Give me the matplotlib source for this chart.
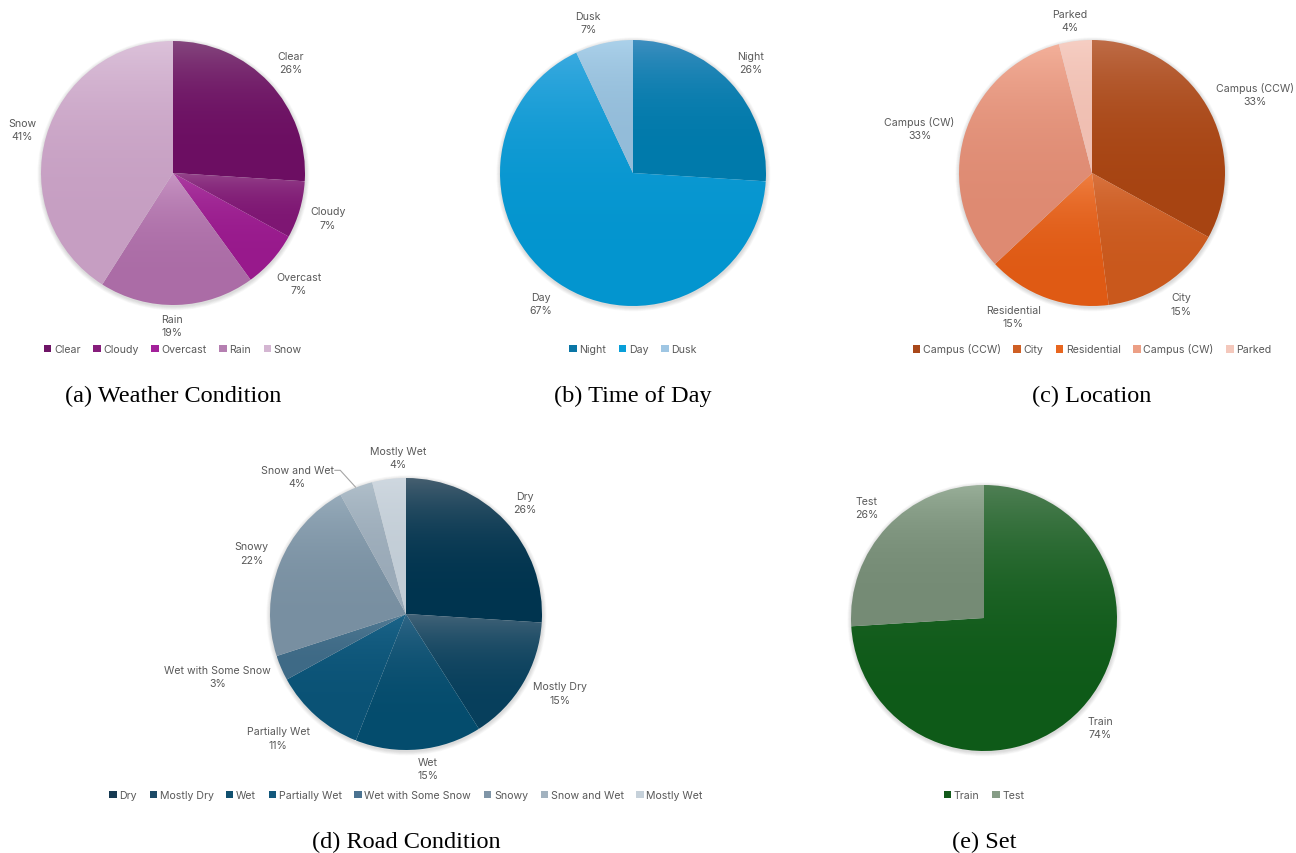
import numpy as np
import matplotlib
matplotlib.use("Agg")
import matplotlib.pyplot as plt
from matplotlib.patches import Patch, Circle
from matplotlib.colors import to_rgb

# ---------------- data ----------------
weather_labels = ["Clear", "Cloudy", "Overcast", "Rain", "Snow"]
weather_values = [26, 7, 7, 19, 41]

time_labels = ["Night", "Day", "Dusk"]
time_values = [26, 67, 7]

location_labels = ["Campus (CCW)", "City", "Residential", "Campus (CW)", "Parked"]
location_values = [33, 15, 15, 33, 4]

road_labels = ["Dry", "Mostly Dry", "Wet", "Partially Wet", "Wet with Some Snow",
               "Snowy", "Snow and Wet", "Mostly Wet"]
road_values = [26, 15, 15, 11, 3, 22, 4, 4]

set_labels = ["Train", "Test"]
set_values = [74, 26]

captions = ["(a) Weather Condition", "(b) Time of Day", "(c) Location",
            "(d) Road Condition", "(e) Set"]

# ---------------- styles ----------------
W, H = 1296, 854
LABEL_COLOR = "#595959"
LABEL_FONT = ["Inter", "DejaVu Sans"]
LABEL_SIZE = 7.6

# (top colour, bottom colour, legend colour) per slice
weather_colors = [("#85487e", "#6c0e62", "#6e1466"),
                  ("#94438a", "#7e1673", "#861d7b"),
                  ("#ad3ea2", "#98198c", "#a3219a"),
                  ("#c896c4", "#ab6ca6", "#b57fb1"),
                  ("#dcc2da", "#c69ec2", "#d4b6d2")]
time_colors = [("#3f8fc0", "#007aab", "#0a76a6"),
               ("#3aaae0", "#0395cf", "#089fd9"),
               ("#abd1ea", "#93bcd9", "#9fc6e3")]
location_colors = [("#bf6d48", "#a74412", "#a9481a"),
                   ("#d9733f", "#c9581c", "#cf5f24"),
                   ("#f08043", "#df5a14", "#e8661f"),
                   ("#f3b09a", "#de8a72", "#ec9f85"),
                   ("#f6cec3", "#f0bfb2", "#f4c8bc")]
road_colors = [("#465f70", "#00344f", "#173a52"),
               ("#426378", "#073f5c", "#1c4a66"),
               ("#316686", "#044c6d", "#11506f"),
               ("#1d658a", "#0a5275", "#13587c"),
               ("#557d96", "#3e6a86", "#4a7290"),
               ("#98acbb", "#788fa1", "#7f95a7"),
               ("#b0bfca", "#9aaab8", "#a2b2bf"),
               ("#cfd8e0", "#c2cdd6", "#c6d1da")]
set_colors = [("#4f7f54", "#0e5a18", "#12591a"),
              ("#99af99", "#758b75", "#869c86")]

# label placement: (distance in radii, angle tweak in degrees)
weather_lab = [(1.225, 0), (1.22, 0), (1.27, 0), (1.155, -2), (1.19, 0)]
time_lab = [(1.21, 0), (1.2, -1), (1.18, 4)]
location_lab = [(1.36, -4.7), (1.19, 0), (1.23, -9), (1.34, 1.5), (1.16, 1)]
road_lab = [(1.2, 0), (1.27, 3.4), (1.15, 2.7), (1.31, -4.5), (1.46, -5),
            (1.22, 0), (1.29, 16.7), (1.155, -4.3)]
set_lab = [(1.2, 0), (1.21, 0)]

# pie geometry in pixels: centre x, centre y, radius, legend y, caption y
charts = [
    dict(labels=weather_labels, values=weather_values, colors=weather_colors,
         lab=weather_lab, cx=173, cy=174, r=132, ly=350, capy=396, cap=captions[0]),
    dict(labels=time_labels, values=time_values, colors=time_colors,
         lab=time_lab, cx=633, cy=174, r=133, ly=350, capy=396, cap=captions[1]),
    dict(labels=location_labels, values=location_values, colors=location_colors,
         lab=location_lab, cx=1092, cy=174, r=133, ly=350, capy=396, cap=captions[2]),
    dict(labels=road_labels, values=road_values, colors=road_colors,
         lab=road_lab, cx=406, cy=615, r=136, ly=796, capy=842, cap=captions[3],
         leader=6),
    dict(labels=set_labels, values=set_values, colors=set_colors,
         lab=set_lab, cx=984, cy=619, r=133, ly=796, capy=842, cap=captions[4]),
]

fig = plt.figure(figsize=(W / 100, H / 100), dpi=100)
fig.patch.set_facecolor("white")


def gradient_image(top, bottom, n=256):
    s = np.linspace(0, 1, n)
    t = 1 - (1 - s) ** 3
    c0 = np.array(to_rgb(top))
    c1 = np.array(to_rgb(bottom))
    img = c0[None, :] * (1 - t[:, None]) + c1[None, :] * t[:, None]
    return img[:, None, :]


for ch in charts:
    cx, cy, r = ch["cx"], ch["cy"], ch["r"]
    S = r * 1.1
    ax = fig.add_axes([(cx - S) / W, 1 - (cy + S) / H, 2 * S / W, 2 * S / H])
    # soft shadow
    for k in range(6):
        ax.add_patch(Circle((0.003, -0.01), 1.0 + 0.005 * (k + 1),
                            facecolor="#000000", alpha=0.022, edgecolor="none",
                            zorder=0))
    wedges, _ = ax.pie(ch["values"], startangle=90, counterclock=False,
                       colors=[c[1] for c in ch["colors"]],
                       wedgeprops=dict(linewidth=0))
    for w, (top, bottom, _l) in zip(wedges, ch["colors"]):
        bb = w.get_path().get_extents()
        im = ax.imshow(gradient_image(top, bottom),
                       extent=(bb.x0, bb.x1, bb.y0, bb.y1), origin="upper",
                       aspect="auto", zorder=2, interpolation="bilinear")
        im.set_clip_path(w)
        w.set_facecolor("none")
    # labels
    total = float(sum(ch["values"]))
    cum = 0.0
    for i, (lab, v) in enumerate(zip(ch["labels"], ch["values"])):
        mid = 90 - 360 * (cum + v / 2) / total
        cum += v
        d, da = ch["lab"][i]
        ang = np.deg2rad(mid + da)
        x, y = d * np.cos(ang), d * np.sin(ang)
        pct = int(round(100 * v / total))
        ax.text(x, y, f"{lab}\n{pct}%", ha="center", va="center",
                fontsize=LABEL_SIZE, color=LABEL_COLOR, family=LABEL_FONT,
                linespacing=1.4, zorder=5)
        if ch.get("leader") == i:
            # leader line from label to wedge edge
            edge = np.deg2rad(mid)
            ex, ey = np.cos(edge), np.sin(edge)
            tx = x + (37 / r)
            ty = y + (6 / r)
            ax.plot([tx, tx + 6 / r, ex], [ty, ty, ey], color="#a6a6a6",
                    lw=0.8, zorder=4, solid_capstyle="butt")
    ax.set_xlim(-1.1, 1.1)
    ax.set_ylim(-1.1, 1.1)
    ax.set_aspect("auto")
    ax.axis("off")

    handles = [Patch(facecolor=c[2], edgecolor="none") for c in ch["colors"]]
    fig.legend(handles, ch["labels"], loc="center",
               bbox_to_anchor=(cx / W, 1 - ch["ly"] / H), ncol=len(handles),
               frameon=False, handlelength=0.7, handleheight=0.7,
               handletextpad=0.25, columnspacing=1.2,
               prop=dict(family=LABEL_FONT, size=LABEL_SIZE),
               labelcolor=LABEL_COLOR, borderaxespad=0, borderpad=0)
    fig.text(cx / W, 1 - ch["capy"] / H, ch["cap"], ha="center", va="center",
             family=["Liberation Serif", "DejaVu Serif"], fontsize=17.5,
             color="black")

fig.savefig("out.png", dpi=100, facecolor="white")
